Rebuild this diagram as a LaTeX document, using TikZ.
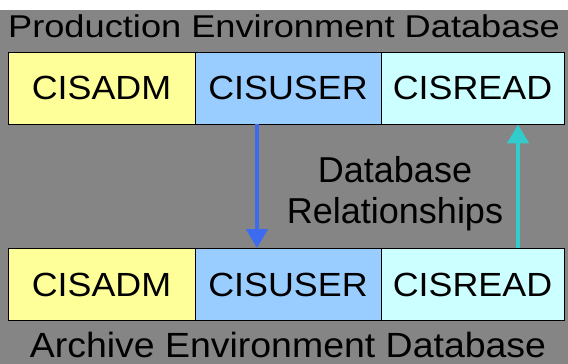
\documentclass[tikz,border=0pt]{standalone}
\usepackage{fontspec}
\setmainfont{Liberation Sans}
\newfontfamily\titlefont[FakeStretch=1.15]{Liberation Sans}
\newfontfamily\labelfont[FakeStretch=1.07]{Liberation Sans}
\usetikzlibrary{arrows.meta}

\definecolor{bggray}{HTML}{858585}
\definecolor{admyellow}{HTML}{FFFF99}
\definecolor{userblue}{HTML}{99CCFF}
\definecolor{readcyan}{HTML}{CCFFFF}
\definecolor{downblue}{HTML}{3D6BF0}
\definecolor{upcyan}{HTML}{33CCCC}

\tikzset{
    schemabox/.style={draw=black, line width=0.8pt, minimum height=72pt, inner sep=0pt,
        font=\labelfont\fontsize{33.5}{33.5}\selectfont},
    title/.style={font=\titlefont\fontsize{31.5}{31.5}\selectfont, inner sep=0pt, anchor=base},
    rel/.style={line width=4.5pt, -{Triangle[width=21pt,length=19pt]}}
}

\begin{document}
\begin{tikzpicture}[x=1pt,y=-1pt]

    % Canvas
    \useasboundingbox (0,0) rectangle (568,364);
    \fill[white] (0,0) rectangle (568,10);
    \fill[bggray] (0,10) rectangle (568,364);

    % Titles
    \node[title] (ptitle) at (284,37) {Production Environment Database};
    \node[title, font=\labelfont\fontsize{35}{35}\selectfont] (atitle) at (288,357) {Archive Environment Database};

    % Production schemas
    \node[schemabox, fill=admyellow, minimum width=187pt] (padm) at (101.5,88) {CISADM};
    \node[schemabox, fill=userblue, minimum width=186pt] (puser) at (288,88) {CISUSER};
    \node[schemabox, fill=readcyan, minimum width=183pt] (pread) at (472.5,88) {CISREAD};

    % Archive schemas
    \node[schemabox, fill=admyellow, minimum width=187pt] (aadm) at (101.5,284.5) {CISADM};
    \node[schemabox, fill=userblue, minimum width=186pt] (auser) at (288,284.5) {CISUSER};
    \node[schemabox, fill=readcyan, minimum width=183pt] (aread) at (472.5,284.5) {CISREAD};

    % Relationships
    \draw[rel, downblue] ([xshift=-31pt]puser.south) -- ([xshift=-31pt]auser.north);
    \draw[rel, upcyan] ([xshift=45.5pt]aread.north) -- ([xshift=45.5pt]pread.south);
    \node[align=center, inner sep=0pt, font=\fontsize{36}{41}\selectfont] (rellabel) at (395,193.5)
        {Database\\Relationships};

\end{tikzpicture}
\end{document}
